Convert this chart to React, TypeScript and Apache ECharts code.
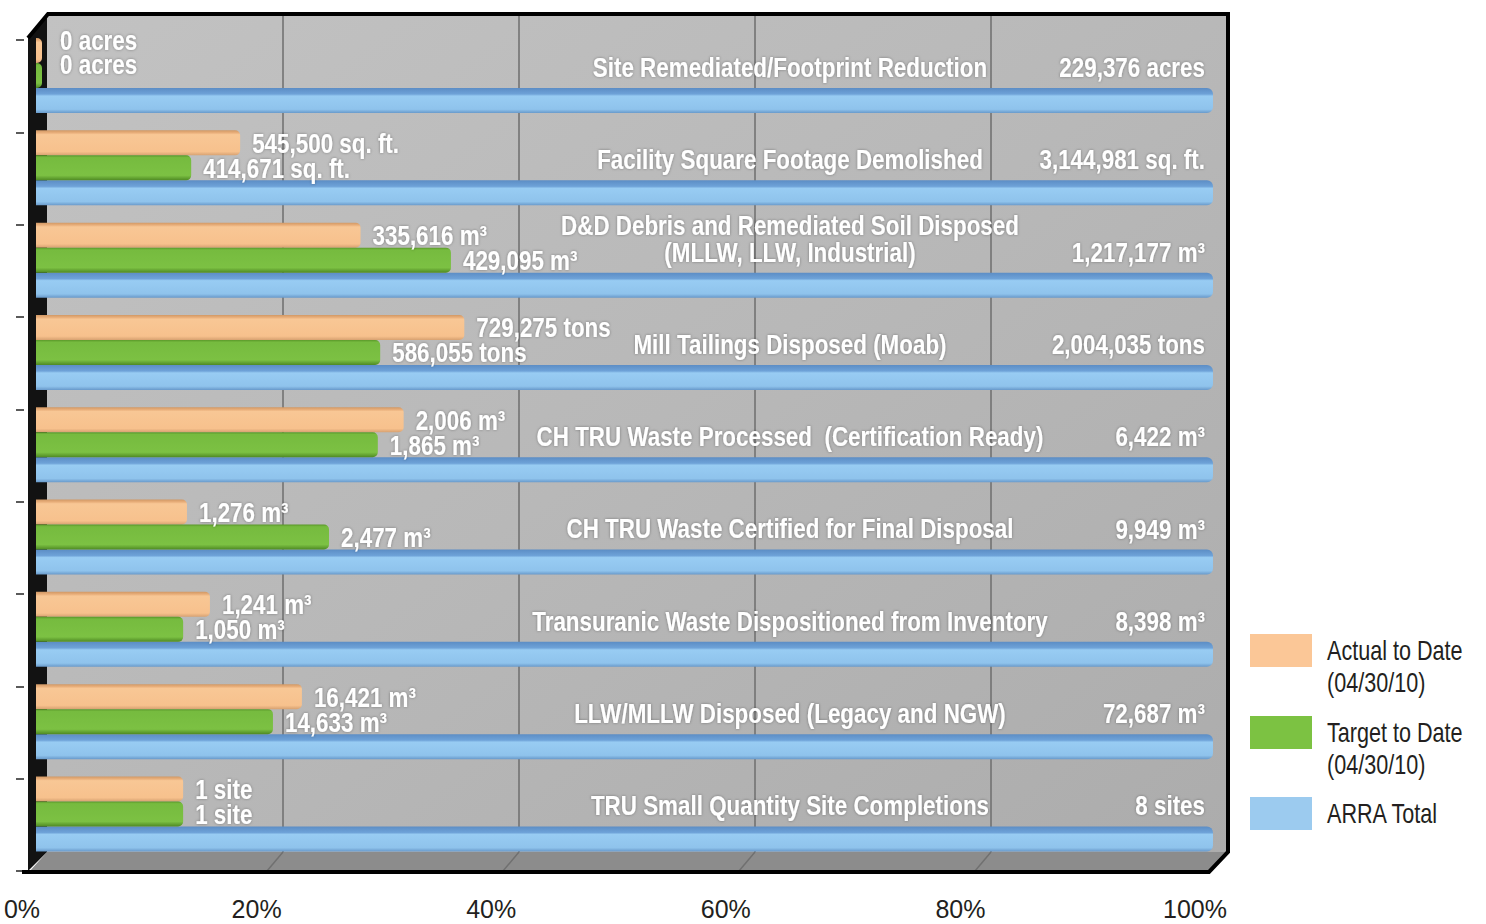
import React, { useEffect, useRef } from "react";
import * as echarts from "echarts";

const categories = [
  "Site Remediated/Footprint Reduction",
  "Facility Square Footage Demolished",
  "D&D Debris and Remediated Soil Disposed\n(MLLW, LLW, Industrial)",
  "Mill Tailings Disposed (Moab)",
  "CH TRU Waste Processed  (Certification Ready)",
  "CH TRU Waste Certified for Final Disposal",
  "Transuranic Waste Dispositioned from Inventory",
  "LLW/MLLW Disposed (Legacy and NGW)",
  "TRU Small Quantity Site Completions",
];
const units = ["acres", "sq. ft.", "m³", "tons", "m³", "m³", "m³", "m³", "sites"];
const actualToDate = [0, 545500, 335616, 729275, 2006, 1276, 1241, 16421, 1];
const targetToDate = [0, 414671, 429095, 586055, 1865, 2477, 1050, 14633, 1];
const arraTotal = [229376, 3144981, 1217177, 2004035, 6422, 9949, 8398, 72687, 8];
const xTicks = [0, 20, 40, 60, 80, 100];
const legendNames = ["Actual to Date\n(04/30/10)", "Target to Date\n(04/30/10)", "ARRA Total"];

const FONT = '"Liberation Sans", Arial, sans-serif';
const NARROW = 0.8;
const CAT_GAP = 0.187;

function fmt(v: number, unit: string) {
  const u = unit === "sites" && v === 1 ? "site" : unit;
  return v.toLocaleString("en-US") + " " + u;
}
const pct = (v: number, i: number) => (v / arraTotal[i]) * 100;

const grad = (stops: [number, string][]) =>
  new echarts.graphic.LinearGradient(0, 0, 0, 1, stops.map(([offset, color]) => ({ offset, color })));

const orangeFill = grad([
  [0, "#d19864"], [0.1, "#e9af7b"], [0.17, "#f8c795"], [0.85, "#f7c18d"], [1, "#d7a171"],
]);
const greenFill = grad([
  [0, "#5a9829"], [0.09, "#76bb3f"], [0.8, "#7cc143"], [1, "#4e8923"],
]);
const blueFill = grad([
  [0, "#5c8dc5"], [0.24, "#6ea2d8"], [0.32, "#98ccf3"], [0.85, "#8fc3ec"], [1, "#6899ca"],
]);

export default function App() {
  const ref = useRef<HTMLDivElement>(null);

  useEffect(() => {
    if (!ref.current) return;
    const chart = echarts.init(ref.current, undefined, { renderer: "svg" });

    const floorLines = [283, 519, 755, 991].map((x) => ({
      type: "line",
      z: -1,
      shape: { x1: x, y1: 852, x2: x - 16, y2: 871 },
      style: { stroke: "#707070", lineWidth: 1.5 },
    }));

    const legendColors = ["#fbc797", "#7cc242", "#9ccbef"];
    const legendTops = [634, 716, 797];
    const legendEls: any[] = [];
    legendNames.forEach((n, i) => {
      legendEls.push({
        type: "rect",
        shape: { x: 1250, y: legendTops[i], width: 62, height: 33 },
        style: { fill: legendColors[i] },
      });
      legendEls.push({
        type: "text",
        x: 1327,
        y: legendTops[i] + 1,
        scaleX: NARROW,
        style: {
          text: n,
          fill: "#231f20",
          fontFamily: FONT,
          fontSize: 27,
          lineHeight: 32,
          align: "left",
          verticalAlign: "top",
        },
      });
    });

    const textCommon = {
      fill: "#ffffff",
      fontFamily: FONT,
      fontWeight: "bold",
      fontSize: 28,
      textShadowColor: "rgba(0,0,0,0.35)",
      textShadowBlur: 3,
    };

    const option: any = {
      animation: false,
      backgroundColor: "#ffffff",
      grid: [
        { left: 36, width: 1177, top: 29.4, height: 830.7 },
        { left: 24, width: 10, top: 40, height: 831 },
        { left: 47, width: 1180, top: 16, height: 836 },
        { left: 22, width: 1173, top: 20, height: 871 },
      ],
      xAxis: [
        { gridIndex: 0, type: "value", min: 0, max: 100, show: false },
        { gridIndex: 1, type: "value", min: 0, max: 1, show: false },
        {
          gridIndex: 2,
          type: "value",
          min: 0,
          max: 100,
          interval: 20,
          axisLine: { show: false },
          axisTick: { show: false },
          axisLabel: { show: false },
          splitLine: { show: true, showMinLine: false, showMaxLine: false, lineStyle: { color: "#6e6e6e", width: 1.5 } },
        },
        {
          gridIndex: 3,
          type: "value",
          min: xTicks[0],
          max: xTicks[xTicks.length - 1],
          interval: xTicks[1] - xTicks[0],
          axisLine: { show: false },
          axisTick: { show: false },
          splitLine: { show: false },
          axisLabel: {
            margin: 5,
            formatter: (v: number) => `${v}%`,
            color: "#231f20",
            fontFamily: FONT,
            fontSize: 25,
          },
        },
      ],
      yAxis: [
        { gridIndex: 0, type: "category", data: categories, inverse: true, show: false },
        {
          gridIndex: 1,
          type: "category",
          data: categories,
          inverse: true,
          axisLine: { show: false },
          axisLabel: { show: false },
          axisTick: { show: true, length: 8, lineStyle: { color: "#5a5a5a", width: 2 } },
        },
        { gridIndex: 2, type: "value", min: 0, max: 1, show: false },
        { gridIndex: 3, type: "value", min: 0, max: 1, show: false },
      ],
      graphic: [
        {
          type: "rect",
          z: -2,
          shape: { x: 47, y: 14, width: 1181, height: 838 },
          style: {
            fill: new echarts.graphic.LinearGradient(0, 0, 1, 1, [
              { offset: 0, color: "#c2c2c2" },
              { offset: 0.5, color: "#b8b8b8" },
              { offset: 1, color: "#acacac" },
            ]),
          },
        },
        {
          type: "polygon",
          z: -2,
          shape: { points: [[30, 871], [1210, 871], [1228, 852], [47, 852]] },
          style: { fill: "#8c8c8c" },
        },
        ...floorLines,
        {
          type: "polygon",
          z: -1,
          shape: { points: [[28, 37], [47, 14], [47, 852], [28, 871]] },
          style: { fill: "#121212" },
        },
        {
          type: "polyline",
          z: 10,
          shape: { points: [[28, 38], [48, 14], [1228, 14], [1228, 852], [1209, 872], [22, 872]] },
          style: { stroke: "#000000", lineWidth: 4, fill: null },
        },
        ...legendEls,
      ],
      series: [
        {
          name: "Actual to Date (04/30/10)",
          type: "bar",
          xAxisIndex: 0,
          yAxisIndex: 0,
          barGap: "0%",
          barCategoryGap: `${CAT_GAP * 100}%`,
          barMinHeight: 6,
          data: actualToDate.map(pct),
          itemStyle: { color: orangeFill, borderRadius: [0, 5, 5, 0] },
          z: 3,
        },
        {
          name: "Target to Date (04/30/10)",
          type: "bar",
          xAxisIndex: 0,
          yAxisIndex: 0,
          barGap: "0%",
          barCategoryGap: `${CAT_GAP * 100}%`,
          barMinHeight: 6,
          data: targetToDate.map(pct),
          itemStyle: { color: greenFill, borderRadius: [0, 5, 5, 0] },
          z: 3,
        },
        {
          name: "ARRA Total",
          type: "bar",
          xAxisIndex: 0,
          yAxisIndex: 0,
          barGap: "0%",
          barCategoryGap: `${CAT_GAP * 100}%`,
          data: arraTotal.map((v, i) => pct(v, i)),
          itemStyle: { color: blueFill, borderRadius: [0, 6, 6, 0] },
          z: 2,
        },
        {
          name: "labels",
          type: "custom",
          xAxisIndex: 0,
          yAxisIndex: 0,
          silent: true,
          clip: false,
          z: 5,
          data: categories.map((_, i) => [0, i]),
          renderItem: (_params: any, api: any) => {
            const i = api.value(1);
            const band = api.size([0, 1])[1];
            const barW = (band * (1 - CAT_GAP)) / 3;
            const [x0, yc] = api.coord([0, i]);
            const xn = api.coord([64.06, i])[0];
            const xt = api.coord([99.32, i])[0];
            const a = actualToDate[i];
            const t = targetToDate[i];
            const xa = a === 0 ? x0 + 24 : api.coord([pct(a, i), i])[0] + 12;
            const xg = t === 0 ? x0 + 24 : api.coord([pct(t, i), i])[0] + 12;
            const dyA = a === 0 ? -10 : 0;
            const dyG = t === 0 ? -11 : 0;
            const mk = (text: string, x: number, y: number, align: string, va: string, extra: any = {}) => ({
              type: "text",
              x,
              y,
              scaleX: NARROW,
              style: { ...textCommon, text, align, verticalAlign: va, ...extra },
            });
            return {
              type: "group",
              children: [
                mk(categories[i], xn, yc + 5, "center", "bottom", { lineHeight: 27 }),
                mk(fmt(arraTotal[i], units[i]), xt, yc - 8.4, "right", "middle"),
                mk(fmt(a, units[i]), xa, yc - barW + dyA, "left", "middle"),
                mk(fmt(t, units[i]), xg, yc + dyG, "left", "middle"),
              ],
            };
          },
        },
      ],
    };

    chart.setOption(option);
    return () => chart.dispose();
  }, []);

  return (
    <div
      ref={ref}
      style={{ position: "fixed", left: 0, top: 0, width: 1486, height: 924, background: "#fff" }}
    />
  );
}
